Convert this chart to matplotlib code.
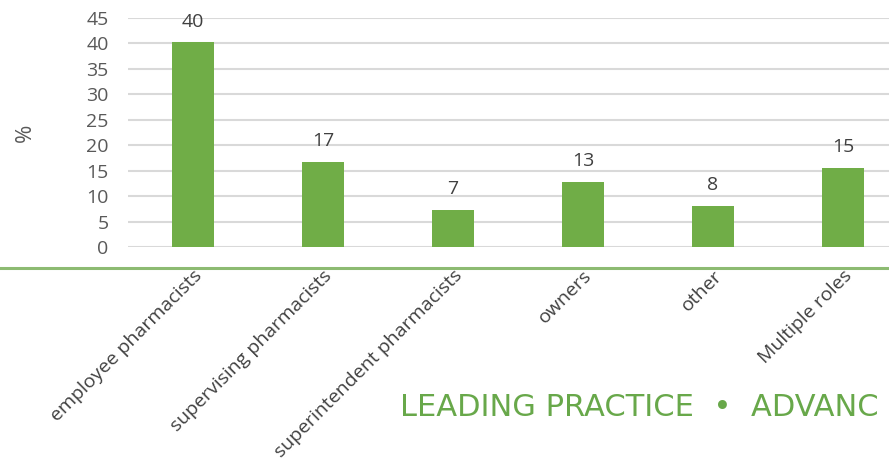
import matplotlib.pyplot as plt
from matplotlib.lines import Line2D

# Data
roles = ['employee pharmacists', 'supervising pharmacists', 'superintendent pharmacists',
         'owners', 'other', 'Multiple roles']
shares = [40.2, 16.7, 7.3, 12.8, 8.1, 15.6]
share_labels = ['40', '17', '7', '13', '8', '15']
yticks = [0, 5, 10, 15, 20, 25, 30, 35, 40, 45]

bar_color = '#70AD47'
text_color = '#595959'

plt.rcParams['font.family'] = ['Open Sans', 'DejaVu Sans']

fig = plt.figure(figsize=(8.89, 4.72), dpi=100)
ax = fig.add_axes([0.144, 0.4767, 0.856, 0.4853])

x = range(len(roles))
ax.bar(x, shares, width=0.32, color=bar_color, zorder=3)

for i, (v, lab) in enumerate(zip(shares, share_labels)):
    ax.text(i, v + 2.3, lab, ha='center', va='bottom', fontsize=14,
            color='#404040', clip_on=False)

ax.set_ylim(0, 45)
ax.set_xlim(-0.5, 5.354)
ax.set_yticks(yticks)
ax.set_yticklabels([str(t) for t in yticks], fontsize=14, color=text_color)
ax.set_xticks(list(x))
ax.set_xticklabels(roles, rotation=45, ha='right', rotation_mode='anchor',
                   fontsize=14, color='#404040')
ax.tick_params(axis='both', length=0)
ax.tick_params(axis='x', pad=14)
ax.tick_params(axis='y', pad=14)
ax.grid(axis='y', color='#D9D9D9', linewidth=1.5, zorder=0)
ax.set_axisbelow(True)
for s in ax.spines.values():
    s.set_visible(False)

ax.set_ylabel('%', fontsize=16, color=text_color)
ax.yaxis.set_label_coords(-0.121, 0.5)

# green divider across the page
fig.add_artist(Line2D([0, 1], [0.432, 0.432], color='#8DBB72', linewidth=2.2))

fig.text(0.45, 0.119, 'LEADING PRACTICE  \u2022  ADVANC', fontsize=22,
         color='#68A84A', fontfamily='DejaVu Sans', ha='left', va='baseline')

fig.savefig('out.png', dpi=100)
